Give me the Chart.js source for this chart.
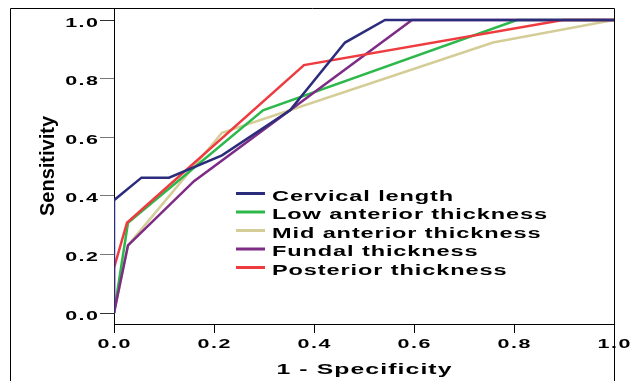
<!DOCTYPE html>
<html>
<head>
<meta charset="utf-8">
<script src="https://cdn.jsdelivr.net/npm/chart.js@4.4.1/dist/chart.umd.min.js"></script>
<style>
  body { margin: 0; background: #fff; }
  #wrap { width: 631px; height: 381px; }
</style>
</head>
<body>
<div id="wrap"><canvas id="roc" width="631" height="381"></canvas></div>
<script>
// ROC curves (x = 1 - specificity, y = sensitivity)
const seriesNames = ['Cervical length', 'Low anterior thickness', 'Mid anterior thickness', 'Fundal thickness', 'Posterior thickness'];
const seriesColors = ['#2B2D7C', '#2DB84B', '#D5CD97', '#7D2B85', '#EE3B3F'];

const fprCervical = [0, 0, 0.055, 0.11, 0.216, 0.352, 0.462, 0.542, 1];
const tprCervical = [0, 0.385, 0.462, 0.462, 0.538, 0.692, 0.923, 1, 1];
const fprLowAnt = [0, 0.028, 0.298, 0.806, 1];
const tprLowAnt = [0, 0.308, 0.692, 1, 1];
const fprMidAnt = [0, 0.028, 0.216, 0.758, 1];
const tprMidAnt = [0, 0.231, 0.615, 0.923, 1];
const fprFundal = [0, 0.028, 0.16, 0.596, 1];
const tprFundal = [0, 0.231, 0.45, 1, 1];
const fprPosterior = [0, 0, 0.026, 0.38, 0.898, 1];
const tprPosterior = [0, 0.154, 0.308, 0.846, 1, 1];

const xTicks = [0, 0.2, 0.4, 0.6, 0.8, 1.0];
const yTicks = [0, 0.2, 0.4, 0.6, 0.8, 1.0];
const xTitle = '1 - Specificity';
const yTitle = 'Sensitivity';

const fprs = [fprCervical, fprLowAnt, fprMidAnt, fprFundal, fprPosterior];
const tprs = [tprCervical, tprLowAnt, tprMidAnt, tprFundal, tprPosterior];
const drawOrder = [0, 3, 4, 2, 1];

function toPoints(xs, ys) {
    return xs.map((x, i) => ({ x: x, y: ys[i] }));
}

// wide, slightly spaced lettering like the original figure
function drawWide(ctx, text, x, y, sx, sp, align) {
    var chars = Array.from(text);
    var widths = chars.map(c => ctx.measureText(c).width * sx);
    var total = widths.reduce((a, b) => a + b, 0) + sp * (chars.length - 1);
    var start = x;
    if (align === 'center') start = x - total / 2;
    if (align === 'right') start = x - total;
    ctx.textAlign = 'left';
    chars.forEach((c, i) => {
        ctx.save();
        ctx.translate(start, y);
        ctx.scale(sx, 1);
        ctx.fillText(c, 0, 0);
        ctx.restore();
        start += widths[i] + sp;
    });
}

const figureText = {
    id: 'figureText',
    afterDraw(chart) {
        const ctx = chart.ctx;
        const area = chart.chartArea;
        const xs = chart.scales.x;
        const ys = chart.scales.y;
        ctx.save();

        // frame around the figure
        ctx.strokeStyle = '#000';
        ctx.lineWidth = 1;
        ctx.beginPath();
        ctx.moveTo(10.5, chart.height);
        ctx.lineTo(10.5, area.top + 0.5);
        ctx.lineTo(area.right + 0.5, area.top + 0.5);
        ctx.lineTo(area.right + 0.5, chart.height);
        ctx.stroke();

        ctx.fillStyle = '#000';
        ctx.textBaseline = 'alphabetic';
        ctx.font = 'bold 13px "Liberation Sans", Arial, sans-serif';
        ys.ticks.forEach(t => {
            drawWide(ctx, t.value.toFixed(1), area.left - 16, ys.getPixelForValue(t.value) + 6.5, 1.65, 1.5, 'right');
        });
        xs.ticks.forEach(t => {
            drawWide(ctx, t.value.toFixed(1), xs.getPixelForValue(t.value), 348, 1.65, 1.5, 'center');
        });

        ctx.font = 'bold 15px "Liberation Sans", Arial, sans-serif';
        drawWide(ctx, xTitle, (area.left + area.right) / 2, 374, 1.65, 1.1, 'center');

        ctx.save();
        ctx.translate(54, (area.top + area.bottom) / 2);
        ctx.rotate(-Math.PI / 2);
        ctx.font = 'bold 20px "Liberation Sans", Arial, sans-serif';
        ctx.textAlign = 'center';
        ctx.fillText(yTitle, 0, 0);
        ctx.restore();

        // legend inside the plot
        ctx.font = 'bold 14px "Liberation Sans", Arial, sans-serif';
        chart.data.datasets.forEach((ds, i) => {
            var ly = 193.5 + i * 18.5;
            ctx.strokeStyle = ds.borderColor;
            ctx.lineWidth = 3;
            ctx.beginPath();
            ctx.moveTo(236, ly);
            ctx.lineTo(265, ly);
            ctx.stroke();
            ctx.fillStyle = '#000';
            drawWide(ctx, ds.label, 272, ly + 7.4, 1.68, 0.9, 'left');
        });
        ctx.restore();
    }
};

const datasets = seriesNames.map((name, i) => ({
    label: name,
    data: toPoints(fprs[i], tprs[i]),
    borderColor: seriesColors[i],
    backgroundColor: seriesColors[i],
    borderWidth: 2.5,
    pointRadius: 0,
    tension: 0,
    showLine: true,
    order: drawOrder[i]
}));

new Chart(document.getElementById('roc'), {
    type: 'scatter',
    data: { datasets: datasets },
    options: {
        responsive: false,
        animation: false,
        devicePixelRatio: 1,
        layout: { padding: { left: 100, top: 8, right: 17, bottom: 48 } },
        plugins: {
            legend: { display: false },
            tooltip: { enabled: false }
        },
        scales: {
            x: {
                type: 'linear',
                min: 0,
                max: 1,
                afterBuildTicks: (scale) => { scale.ticks = xTicks.map(v => ({ value: v })); },
                ticks: { display: false },
                grid: { drawOnChartArea: false, drawTicks: true, tickLength: 9, color: '#000' },
                border: { display: true, color: '#000', width: 1 }
            },
            y: {
                type: 'linear',
                min: -0.0375,
                max: 1.041,
                afterBuildTicks: (scale) => { scale.ticks = yTicks.map(v => ({ value: v })); },
                ticks: { display: false },
                grid: {
                    drawOnChartArea: false,
                    drawTicks: true,
                    tickLength: 14,
                    color: (c) => (c.tick && (c.tick.value === 0 || c.tick.value === 1)) ? '#333' : '#777'
                },
                border: { display: true, color: '#000', width: 1 }
            }
        }
    },
    plugins: [figureText]
});
</script>
</body>
</html>
